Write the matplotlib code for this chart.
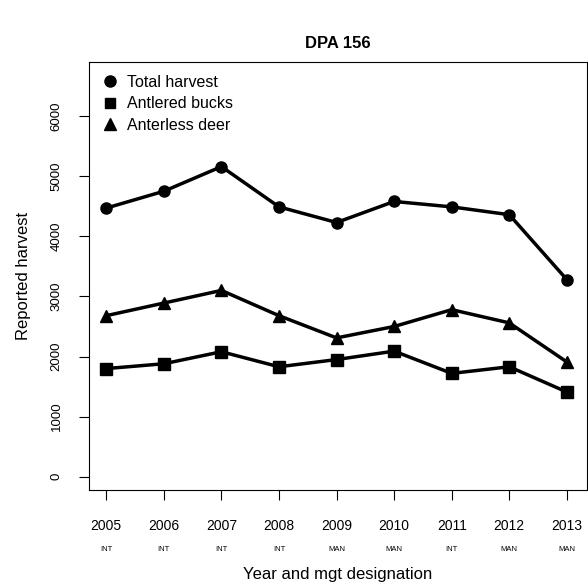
import matplotlib.pyplot as plt
from matplotlib.lines import Line2D

years = [2005, 2006, 2007, 2008, 2009, 2010, 2011, 2012, 2013]
mgt = ["INT", "INT", "INT", "INT", "MAN", "MAN", "INT", "MAN", "MAN"]
total = [4470, 4750, 5160, 4490, 4230, 4580, 4490, 4360, 3280]
antlerless = [2680, 2890, 3100, 2680, 2310, 2500, 2780, 2560, 1910]
bucks = [1800, 1880, 2080, 1830, 1950, 2090, 1720, 1830, 1410]

plt.rcParams['font.family'] = ['Liberation Sans', 'DejaVu Sans']
fig = plt.figure(figsize=(5.88, 5.87), dpi=100)
ax = fig.add_axes([89/588, 1-490/587, 498/588, 428/587])

ax.plot(years, total, 'k-', marker='o', lw=2.5, ms=8)
ax.plot(years, bucks, 'k-', marker='s', lw=2.5, ms=8)
ax.plot(years, antlerless, 'k-', marker='^', lw=2.5, ms=9)

ax.set_xlim(2004.7, 2013.35)
ax.set_ylim(-220, 6900)
ax.set_yticks(range(0, 7000, 1000))
ax.set_yticklabels([str(v) for v in range(0, 7000, 1000)], rotation=90, va='center', fontsize=9.5)
ax.set_xticks(years)
ax.set_xticklabels([str(y) for y in years], fontsize=10)
ax.tick_params(axis='x', length=7, pad=14)
ax.tick_params(axis='y', length=7, pad=12)
for y, m in zip(years, mgt):
    ax.text(y, -0.138, m, transform=ax.get_xaxis_transform(), ha='center', va='center', fontsize=5.5)
ax.set_xlabel('Year and mgt designation', fontsize=12, labelpad=24)
ax.set_ylabel('Reported harvest', fontsize=12, labelpad=14)
ax.set_title('DPA 156', fontsize=12, fontweight='bold', pad=10)
handles = [Line2D([], [], color='k', ls='', marker=mk, ms=s) for mk, s in [('o', 8), ('s', 7), ('^', 8)]]
ax.legend(handles, ['Total harvest', 'Antlered bucks', 'Anterless deer'], loc='upper left',
          frameon=False, fontsize=11.5, handlelength=1.0, borderaxespad=0.4,
          labelspacing=0.4, handletextpad=0.6)
fig.savefig('out.png')
